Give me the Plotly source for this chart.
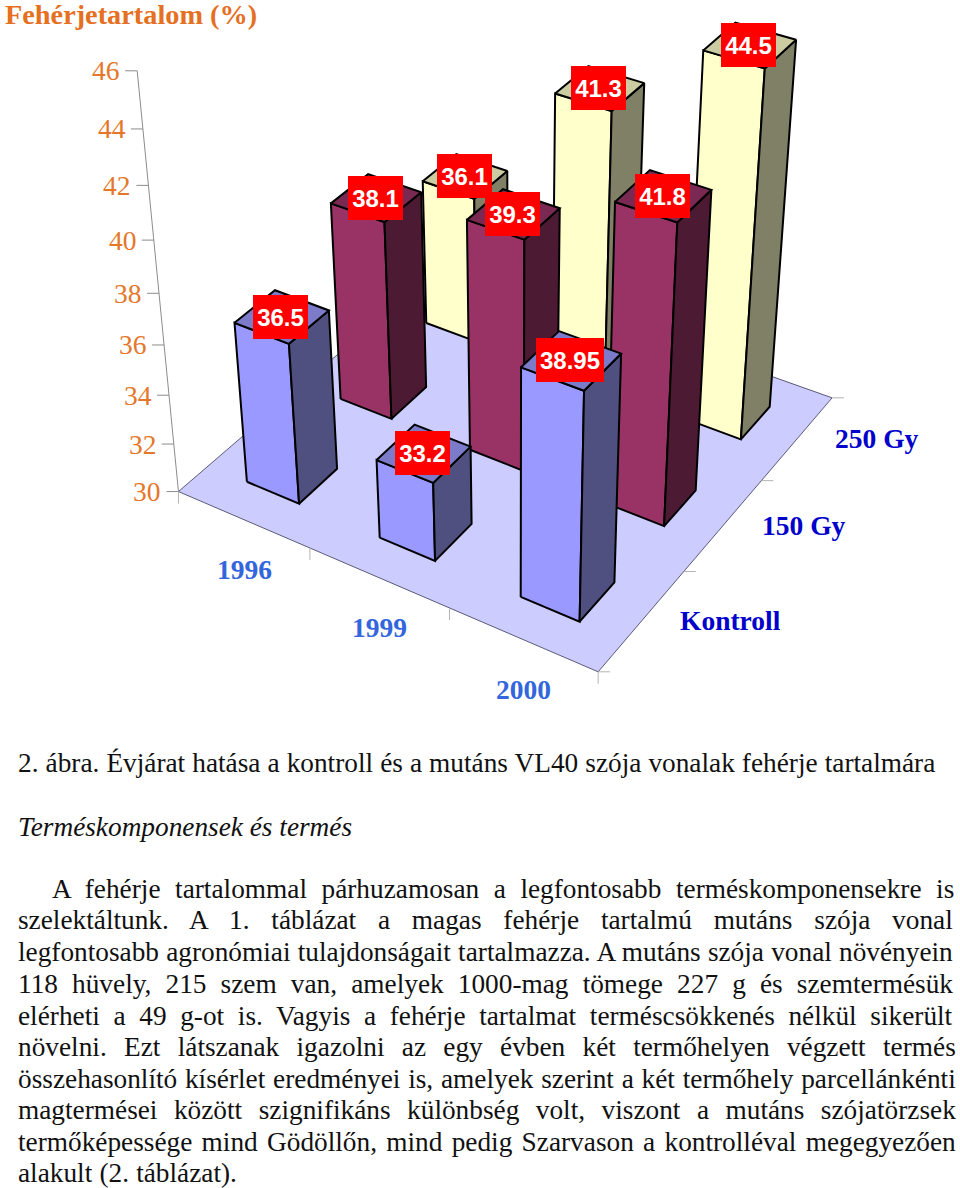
import unicodedata
import numpy as np
import plotly.graph_objects as go

years = ["1996", "1999", "2000"]
series = ["Kontroll", "150 Gy", "250 Gy"]
val_kontroll = [36.5, 33.2, 38.95]
val_150 = [38.1, 39.3, 41.8]
val_250 = [36.1, 41.3, 44.5]
val_ticks = [30, 32, 34, 36, 38, 40, 42, 44, 46]
values = [val_kontroll, val_150, val_250]

# Perspective camera of the 3-D chart: (year index, series index, value - 30, 1) -> page pixels
CAMERA = np.array([
    [122.3318, 110.1557, -3.514042, 178.4631],
    [40.34748, -64.60521, -26.77961, 491.5647],
    [-0.02937591, 0.04693588, -0.006809567, 1.0],
])
BASE = 30
HW = 0.2  # half bar width in category units


def proj(u, v, val):
    q = CAMERA @ np.array([u, v, val - BASE, 1.0])
    return q[0] / q[2], q[1] / q[2]


BLACK = "#000000"
STYLES = [("#9999FF", "#4F4F80", "#7B7BC9"), ("#993366", "#4D1A33", "#7A2952"), ("#FFFFCC", "#808066", "#CCCCA3")]
fig = go.Figure()


def poly(pts, fill, line, lw):
    xs = [p[0] for p in pts] + [pts[0][0]]
    ys = [p[1] for p in pts] + [pts[0][1]]
    fig.add_trace(go.Scatter(x=xs, y=ys, mode="lines", fill="toself", fillcolor=fill,
                             line=dict(color=line, width=lw), hoverinfo="skip", showlegend=False))


def seg(a, b, color, lw=1):
    fig.add_trace(go.Scatter(x=[a[0], b[0]], y=[a[1], b[1]], mode="lines", line=dict(color=color, width=lw),
                             hoverinfo="skip", showlegend=False))


n_y, n_s = len(years), len(series)
poly([proj(0, 0, BASE), proj(n_y, 0, BASE), proj(n_y, n_s, BASE), proj(0, n_s, BASE)], "#CCCCFF", "#5A5A78", 1)
ax = "#8C8C8C"
tk = "#B4B4B4"
seg(proj(0, 0, val_ticks[0]), proj(0, 0, val_ticks[-1]), ax)
anns = []


def label(x, y, text, size, color, bold=False, anchor="center", family="Liberation Serif"):
    anns.append(dict(x=x, y=y, text=f"<b>{text}</b>" if bold else text, showarrow=False, xanchor=anchor,
                     yanchor="middle", borderpad=0, borderwidth=0, font=dict(family=family, size=size, color=color)))


ORANGE = "#E5772B"
for t in val_ticks:
    x, y = proj(0, 0, t)
    seg((x - 12, y), (x, y), ax)
    label(x - 17, y, str(t), 27.5, ORANGE, anchor="right")
for i in range(n_y + 1):
    x, y = proj(i, 0, BASE)
    seg((x, y), (x, y + 12), tk)
for j in range(n_s + 1):
    x, y = proj(n_y, j, BASE)
    seg((x, y), (x + 12, y), tk)
for i, yr in enumerate(years):
    x, y = proj(i + .5, 0, BASE)
    label(x + 1, y + 50, yr, 27.5, "#3366DD", bold=True)
series_dx = [88, 80, 79]
for j, nm in enumerate(series):
    x, y = proj(n_y, j + .5, BASE)
    label(x + series_dx[j], y, nm, 27.5, "#0000CC", bold=True)

order = [(i, j) for j in (2, 1, 0) for i in range(n_y)]
for i, j in order:
    v = values[j][i]
    face, side, top = STYLES[j]
    u0, u1, v0, v1 = i + .5 - HW, i + .5 + HW, j + .5 - HW, j + .5 + HW
    poly([proj(u0, v0, BASE), proj(u1, v0, BASE), proj(u1, v0, v), proj(u0, v0, v)], face, BLACK, 2)
    poly([proj(u1, v0, BASE), proj(u1, v1, BASE), proj(u1, v1, v), proj(u1, v0, v)], side, BLACK, 2)
    poly([proj(u0, v0, v), proj(u1, v0, v), proj(u1, v1, v), proj(u0, v1, v)], top, BLACK, 2)
for i, j in order:
    v = values[j][i]
    x, y = proj(i + .5, j + .5, v)
    txt = str(v)
    anns.append(dict(x=x - 1, y=y, text=f"<b>{txt}</b>", showarrow=False, xanchor="center", yanchor="middle",
                     width=68 if len(txt) > 4 else 55, height=44, bgcolor="#FF0000", borderpad=0, borderwidth=0,
                     font=dict(family="Liberation Sans", size=24, color="#FFFFFF")))
label(5, 14, "Fehérjetartalom (%)", 28.3, "#E5701F", bold=True, anchor="left")

W = dict(zip("abcdefghijklmnopqrstuvwxyz", [.444, .5, .444, .5, .444, .333, .5, .5, .278, .278, .5, .278, .778, .5, .5, .5, .5, .333, .389, .278, .5, .5, .722, .5, .5, .444]))
W.update(zip("ABCDEFGHIJKLMNOPQRSTUVWXYZ", [.722, .667, .667, .722, .611, .556, .722, .722, .333, .389, .722, .611, .889, .722, .722, .556, .722, .667, .556, .611, .722, .722, .944, .722, .722, .611]))
W.update({".": .25, ",": .25, "(": .333, ")": .333, "-": .333, " ": .25})
W.update({d: .5 for d in "0123456789"})


def natural(s, fs):
    return sum(W[unicodedata.normalize("NFD", ch)[0]] for ch in s) * fs


FS = 27.3
TEXT = "#111111"
body = [
    ("2. ábra. Évjárat hatása a kontroll és a mutáns VL40 szója vonalak fehérje tartalmára", 18, 936, 763),
    ("A fehérje tartalommal párhuzamosan a legfontosabb terméskomponensekre is", 52, 956, 889),
    ("szelektáltunk. A 1. táblázat a magas fehérje tartalmú mutáns szója vonal", 18, 956, 920),
    ("legfontosabb agronómiai tulajdonságait tartalmazza. A mutáns szója vonal növényein", 18, 956, 952),
    ("118 hüvely, 215 szem van, amelyek 1000-mag tömege 227 g és szemtermésük", 18, 956, 984),
    ("elérheti a 49 g-ot is. Vagyis a fehérje tartalmat terméscsökkenés nélkül sikerült", 18, 956, 1016),
    ("növelni. Ezt látszanak igazolni az egy évben két termőhelyen végzett termés", 18, 956, 1047),
    ("összehasonlító kísérlet eredményei is, amelyek szerint a két termőhely parcellánkénti", 18, 956, 1079),
    ("magtermései között szignifikáns különbség volt, viszont a mutáns szójatörzsek", 18, 956, 1110),
    ("termőképessége mind Gödöllőn, mind pedig Szarvason a kontrolléval megegyezően", 18, 956, 1142),
    ("alakult (2. táblázat).", 18, 237, 1173),
]
for s, x0, x1, y in body:
    ws = (x1 - x0 - natural(s, FS)) / s.count(" ")
    label(x0, y, f'<span style="word-spacing:{ws:.2f}px">{s}</span>', FS, TEXT, anchor="left")
label(18, 827, "<i>Terméskomponensek és termés</i>", FS, TEXT, anchor="left")

fig.update_layout(width=960, height=1188, margin=dict(l=0, r=0, t=0, b=0), paper_bgcolor="#FFFFFF",
                  plot_bgcolor="#FFFFFF", showlegend=False, annotations=anns,
                  xaxis=dict(range=[0, 960], visible=False, fixedrange=True),
                  yaxis=dict(range=[1188, 0], visible=False, fixedrange=True))
fig.write_html("out.html", post_script="document.body.style.margin='0';", config=dict(displayModeBar=False))
